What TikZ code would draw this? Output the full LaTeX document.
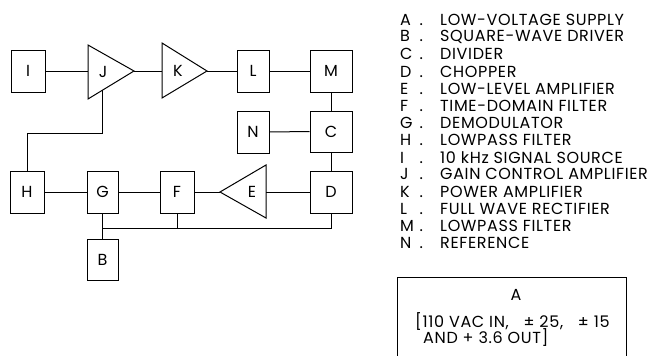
\documentclass[tikz,border=0pt]{standalone}
\usepackage{fontspec}
\setmainfont{Poppins}[LetterSpace=4]
\usetikzlibrary{calc}
\begin{document}
\begin{tikzpicture}[x=1pt,y=-1pt,
  wire/.style={line width=1pt},
  blk/.style={draw,line width=1pt,rectangle,inner sep=0pt,font=\fontsize{16}{18}\selectfont},
  lbl/.style={inner sep=0pt,font=\fontsize{16}{18}\selectfont},
  leg/.style={inner sep=0pt,anchor=west,font=\fontsize{16}{18}\selectfont}]
\useasboundingbox (0,0) rectangle (662,356);
% boxes
\node[blk,minimum width=34pt,minimum height=42pt] (I) at (28,71) {I};
\node[blk,minimum width=32pt,minimum height=42pt] (L) at (253,71) {L};
\node[blk,minimum width=42pt,minimum height=42pt] (M) at (331,71) {M};
\node[blk,minimum width=32pt,minimum height=42pt] (N) at (253,132) {N};
\node[blk,minimum width=42pt,minimum height=41pt] (C) at (331,131.5) {C};
\node[blk,minimum width=42pt,minimum height=42pt] (D) at (331,192) {D};
\node[blk,minimum width=34pt,minimum height=42pt] (H) at (27,192) {H};
\node[blk,minimum width=31pt,minimum height=42pt] (G) at (102.5,192) {G};
\node[blk,minimum width=34pt,minimum height=42pt] (F) at (177,192) {F};
\node[blk,minimum width=31pt,minimum height=41pt] (B) at (102.5,259.5) {B};
% triangles
\coordinate (Jt) at (88,45); \coordinate (Jb) at (88,99); \coordinate (Jo) at (134,71);
\coordinate (Ji) at (88,71);
\draw[wire] (Jt) -- (Jo) -- (Jb) -- cycle;
\node[lbl] (Jl) at (103,72) {J};
\coordinate (Kt) at (162,43); \coordinate (Kb) at (162,98); \coordinate (Ko) at (207,71);
\coordinate (Ki) at (162,71);
\draw[wire] (Kt) -- (Ko) -- (Kb) -- cycle;
\node[lbl] (Kl) at (178,71) {K};
\coordinate (Et) at (266,165); \coordinate (Eb) at (266,218); \coordinate (Eo) at (220,192);
\coordinate (Ei) at (266,192);
\draw[wire] (Et) -- (Eo) -- (Eb) -- cycle;
\node[lbl] (El) at (252,192) {E};
% connectors
\draw[wire] (I.east) -- (Ji);
\draw[wire] (Jo) -- (Ki);
\draw[wire] (Ko) -- (L.west);
\draw[wire] (L.east) -- (M.west);
\draw[wire] (M.south) -- (C.north);
\draw[wire] (N.east) -- (C.west);
\draw[wire] (C.south) -- (D.north);
\draw[wire] (D.west) -- (Ei);
\draw[wire] (Eo) -- (F.east);
\draw[wire] (F.west) -- (G.east);
\draw[wire] (G.west) -- (H.east);
\coordinate (Jd) at ($(Jb)!0.326!(Jo)$);
\draw[wire] (Jd) -- (Jd |- 0,133) -| (H.north);
\draw[wire] (G.south) -- (B.north);
\coordinate (bus) at (102.5,228);
\draw[wire] (bus) -| (D.south);
\draw[wire] (F.south) -- (F.south |- bus);
% legend
\foreach \y/\l/\t in {20/A/LOW-VOLTAGE SUPPLY,37.2/B/SQUARE-WAVE DRIVER,54.3/C/DIVIDER,71.5/D/CHOPPER,88.6/E/LOW-LEVEL AMPLIFIER,105.8/F/TIME-DOMAIN FILTER,122.9/G/DEMODULATOR,140.1/H/LOWPASS FILTER,157.2/I/10 kHz SIGNAL SOURCE,174.4/J/GAIN CONTROL AMPLIFIER,191.5/K/POWER AMPLIFIER,208.7/L/FULL WAVE RECTIFIER,225.8/M/LOWPASS FILTER,243/N/REFERENCE}{
  \node[leg] (leg\l) at (400,\y) {\makebox[40pt][l]{\makebox[19.5pt][l]{\l}.}\t};
}
% power supply box
\coordinate (Abl) at (397,356); \coordinate (Atl) at (397,277);
\coordinate (Atr) at (626,277); \coordinate (Abr) at (626,356);
\draw[wire] (Abl) -- (Atl) -- (Atr) -- (Abr);
\node[lbl] (A1) at (516,295) {A};
\node[lbl,anchor=west] (A2) at (415,322) {[110 VAC IN,\ \ \ ± 25,\ \ \ ± 15};
\node[lbl,anchor=west] (A3) at (423,338) {AND + 3.6 OUT]};
\end{tikzpicture}
\end{document}
